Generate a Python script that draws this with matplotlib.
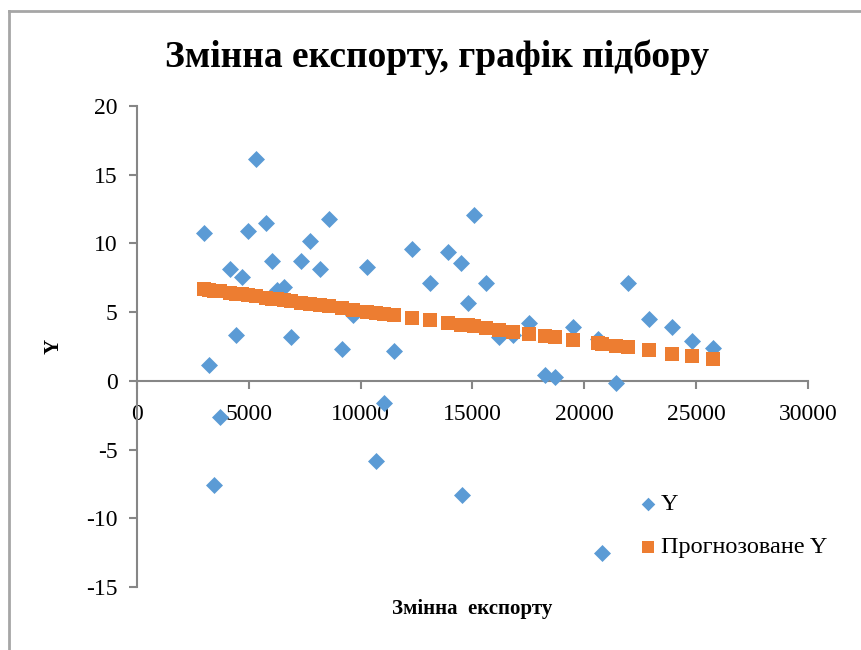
import numpy as np
import matplotlib
matplotlib.use("Agg")
import matplotlib.pyplot as plt
from matplotlib.lines import Line2D

# export variable (x), observed Y and fitted Y
x_export = [3004, 3228, 3438, 3705, 4152, 4420, 4674, 4942, 5299, 5746,
            6040, 6263, 6563, 6906, 7335, 7723, 8170, 8603, 9165, 9656,
            10299, 10670, 11040, 11473, 12290, 13080, 13897, 14496, 14509, 14790,
            15045, 15612, 16205, 16830, 17545, 18259, 18705, 19509, 20594, 20790,
            21397, 21933, 22902, 23915, 24808, 25759]
y_obs = [10.75, 1.16, -7.59, -2.64, 8.15, 3.33, 7.55, 10.92, 16.14, 11.48,
         8.73, 6.62, 6.86, 3.18, 8.73, 10.19, 8.15, 11.79, 2.31, 4.80,
         8.32, -5.82, -1.62, 2.18, 9.61, 7.11, 9.34, 8.57, -8.32, 5.66,
         12.08, 7.11, 3.22, 3.35, 4.24, 0.44, 0.31, 3.95, 3.03, -12.54,
         -0.17, 7.15, 4.51, 3.91, 2.93, 2.38]
y_pred = [6.67, 6.62, 6.57, 6.51, 6.41, 6.35, 6.29, 6.23, 6.15, 6.05,
          5.99, 5.94, 5.87, 5.80, 5.70, 5.61, 5.51, 5.42, 5.29, 5.18,
          5.04, 4.95, 4.87, 4.77, 4.59, 4.41, 4.23, 4.10, 4.09, 4.03,
          3.97, 3.85, 3.72, 3.58, 3.42, 3.26, 3.16, 2.98, 2.73, 2.69,
          2.55, 2.43, 2.22, 1.99, 1.79, 1.58]

x_ticks = [0, 5000, 10000, 15000, 20000, 25000, 30000]
y_ticks = [-15, -10, -5, 0, 5, 10, 15, 20]

plt.rcParams['font.family'] = ['Liberation Serif', 'DejaVu Serif']
plt.rcParams['axes.unicode_minus'] = False
axis_grey = '#868686'

fig = plt.figure(figsize=(8.62, 6.5), dpi=100)
ax = fig.add_axes([137/862, 1-587/650, 671/862, 481/650])

ax.scatter(x_export, y_obs, marker='D', s=75, color='#5B9BD5', linewidths=0,
           label='Y', zorder=3)
ax.scatter(x_export, y_pred, marker='s', s=110, color='#ED7D31', linewidths=0,
           label='Прогнозоване Y', zorder=4)

ax.set_xlim(0, 30000)
ax.set_ylim(-15, 20)
ax.set_xticks(x_ticks)
ax.set_yticks(y_ticks)

for s in ['top', 'right']:
    ax.spines[s].set_visible(False)
ax.spines['bottom'].set_position(('data', 0))
for s in ['left', 'bottom']:
    ax.spines[s].set_color(axis_grey)
    ax.spines[s].set_linewidth(1.5)
ax.tick_params(axis='both', colors=axis_grey, length=6, width=1.5,
               labelsize=17, labelcolor='black')
ax.tick_params(axis='x', pad=11)
ax.tick_params(axis='y', pad=8)

fig.text(437/862, 1-57/650, 'Змінна експорту, графік підбору', fontsize=27,
         fontweight='bold', ha='center', va='center')
ax.set_xlabel('Змінна  експорту', fontsize=15, fontweight='bold')
ax.xaxis.set_label_coords(0.5, -0.025)
ax.set_ylabel('Y', fontsize=15, fontweight='bold')
ax.yaxis.set_label_coords(-0.11, 0.5)

ax.legend(loc='lower left', bbox_to_anchor=(0.735, 0.04), frameon=False,
          fontsize=17.5, handlelength=0.7, handletextpad=0.15, labelspacing=0.85,
          borderaxespad=0, markerscale=0.8)

# chart area border (top and left edges visible)
fig.add_artist(Line2D([9/862, 1], [1-11/650, 1-11/650], color='#a6a6a6', lw=2,
                      transform=fig.transFigure))
fig.add_artist(Line2D([9/862, 9/862], [0, 1-11/650], color='#a6a6a6', lw=2,
                      transform=fig.transFigure))

fig.savefig('out.png', dpi=100)
